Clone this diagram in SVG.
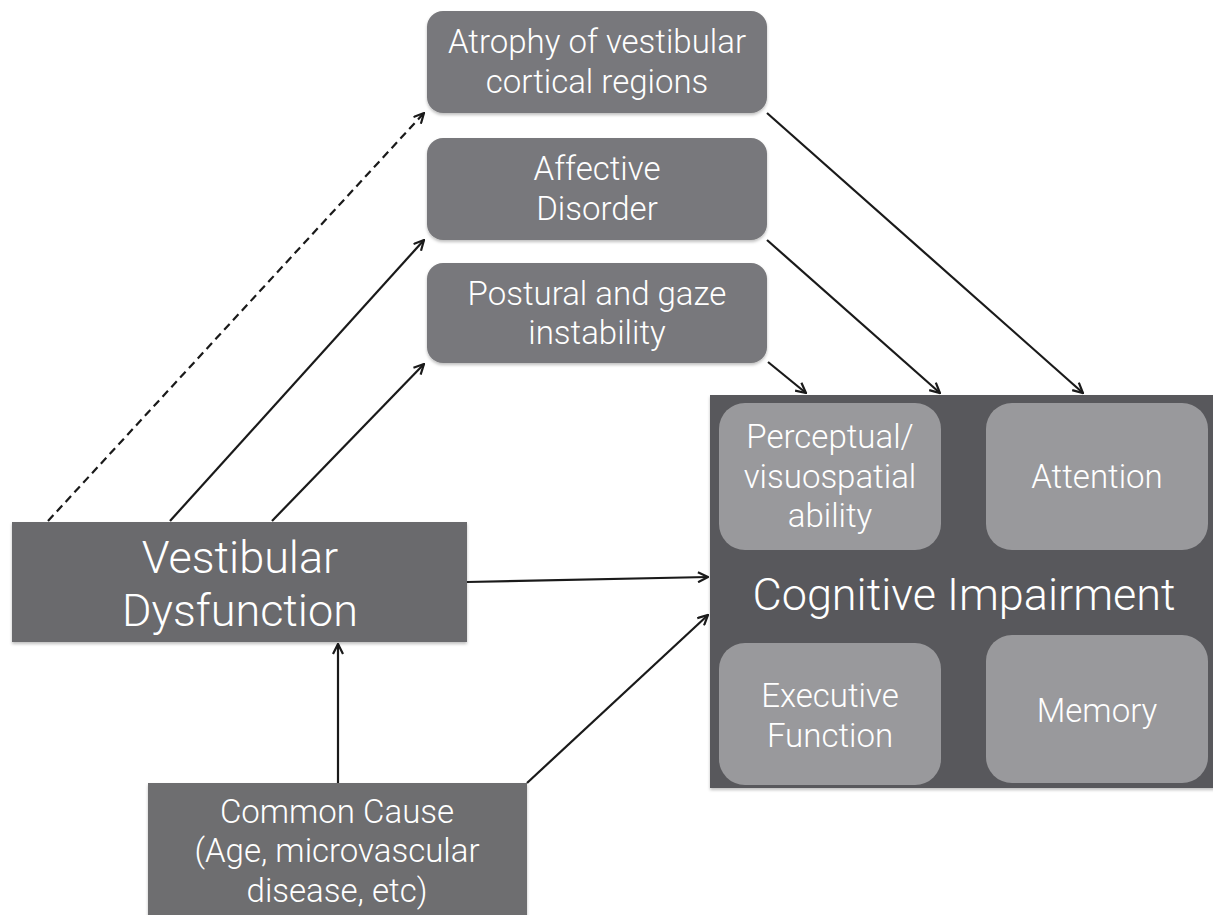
<svg xmlns="http://www.w3.org/2000/svg" width="1213" height="915" viewBox="0 0 1213 915">
<style>
.t{font-family:Roboto,"Liberation Sans",sans-serif;font-weight:300;fill:#ffffff;text-anchor:middle}
.top{fill:#78787b}
.inner{fill:#99999c}
.c{stroke:#1a1a1a;stroke-width:2.2;fill:none;marker-end:url(#ah)}
</style>
<defs>
<marker id="ah" viewBox="0 0 12 12" refX="11" refY="6" markerWidth="12" markerHeight="12" markerUnits="userSpaceOnUse" orient="auto">
<path d="M1,1 L11,6 L1,11" fill="none" stroke="#1a1a1a" stroke-width="2.2"/>
</marker>
<filter id="sh" x="-5%" y="-5%" width="110%" height="115%">
<feDropShadow dx="0" dy="2" stdDeviation="1.5" flood-color="#000" flood-opacity="0.25"/>
</filter>
</defs>
<rect width="1213" height="915" fill="#ffffff"/>
<g id="atrophy">
<rect class="top" x="427" y="11" width="340" height="102" rx="16" filter="url(#sh)"/>
<text class="t" x="597" y="53" font-size="33">Atrophy of vestibular</text>
<text class="t" x="597" y="93" font-size="33">cortical regions</text>
</g>
<g id="affective">
<rect class="top" x="427" y="138" width="340" height="102" rx="16" filter="url(#sh)"/>
<text class="t" x="597" y="180" font-size="33">Affective</text>
<text class="t" x="597" y="220" font-size="33">Disorder</text>
</g>
<g id="postural">
<rect class="top" x="427" y="263" width="340" height="100" rx="16" filter="url(#sh)"/>
<text class="t" x="597" y="305" font-size="33">Postural and gaze</text>
<text class="t" x="597" y="344" font-size="33">instability</text>
</g>
<g id="vestibular">
<rect x="12" y="522" width="455" height="120" fill="#6b6b6d" filter="url(#sh)"/>
<text class="t" x="240" y="573" font-size="45">Vestibular</text>
<text class="t" x="240" y="626" font-size="45">Dysfunction</text>
</g>
<g id="common">
<rect x="148" y="783" width="379" height="140" fill="#6e6e70" filter="url(#sh)"/>
<text class="t" x="337" y="823" font-size="33">Common Cause</text>
<text class="t" x="337" y="862" font-size="33">(Age, microvascular</text>
<text class="t" x="337" y="902" font-size="33">disease, etc)</text>
</g>
<g id="cognitive">
<rect x="710" y="395" width="510" height="393" fill="#58585b" filter="url(#sh)"/>
<text class="t" x="964" y="610" font-size="45">Cognitive Impairment</text>
</g>
<g id="perceptual">
<rect class="inner" x="719" y="403" width="222" height="147" rx="26"/>
<text class="t" x="830" y="448" font-size="33">Perceptual/</text>
<text class="t" x="830" y="488" font-size="33">visuospatial</text>
<text class="t" x="830" y="527" font-size="33">ability</text>
</g>
<g id="attention">
<rect class="inner" x="986" y="403" width="222" height="147" rx="26"/>
<text class="t" x="1097" y="488" font-size="33">Attention</text>
</g>
<g id="executive">
<rect class="inner" x="719" y="643" width="222" height="142" rx="26"/>
<text class="t" x="830" y="707" font-size="33">Executive</text>
<text class="t" x="830" y="747" font-size="33">Function</text>
</g>
<g id="memory">
<rect class="inner" x="986" y="635" width="222" height="148" rx="26"/>
<text class="t" x="1097" y="722" font-size="33">Memory</text>
</g>
<g id="connectors">
<path class="c" d="M48,521 L424,113" stroke-dasharray="8,5"/>
<path class="c" d="M170,521 L424,240"/>
<path class="c" d="M272,521 L424,364"/>
<path class="c" d="M767,113 L1083,393"/>
<path class="c" d="M767,240 L940,393"/>
<path class="c" d="M768,362 L806,393"/>
<path class="c" d="M467,582 L708,577"/>
<path class="c" d="M527,783 L708,615"/>
<path class="c" d="M338,783 L338,644"/>
</g>
</svg>
